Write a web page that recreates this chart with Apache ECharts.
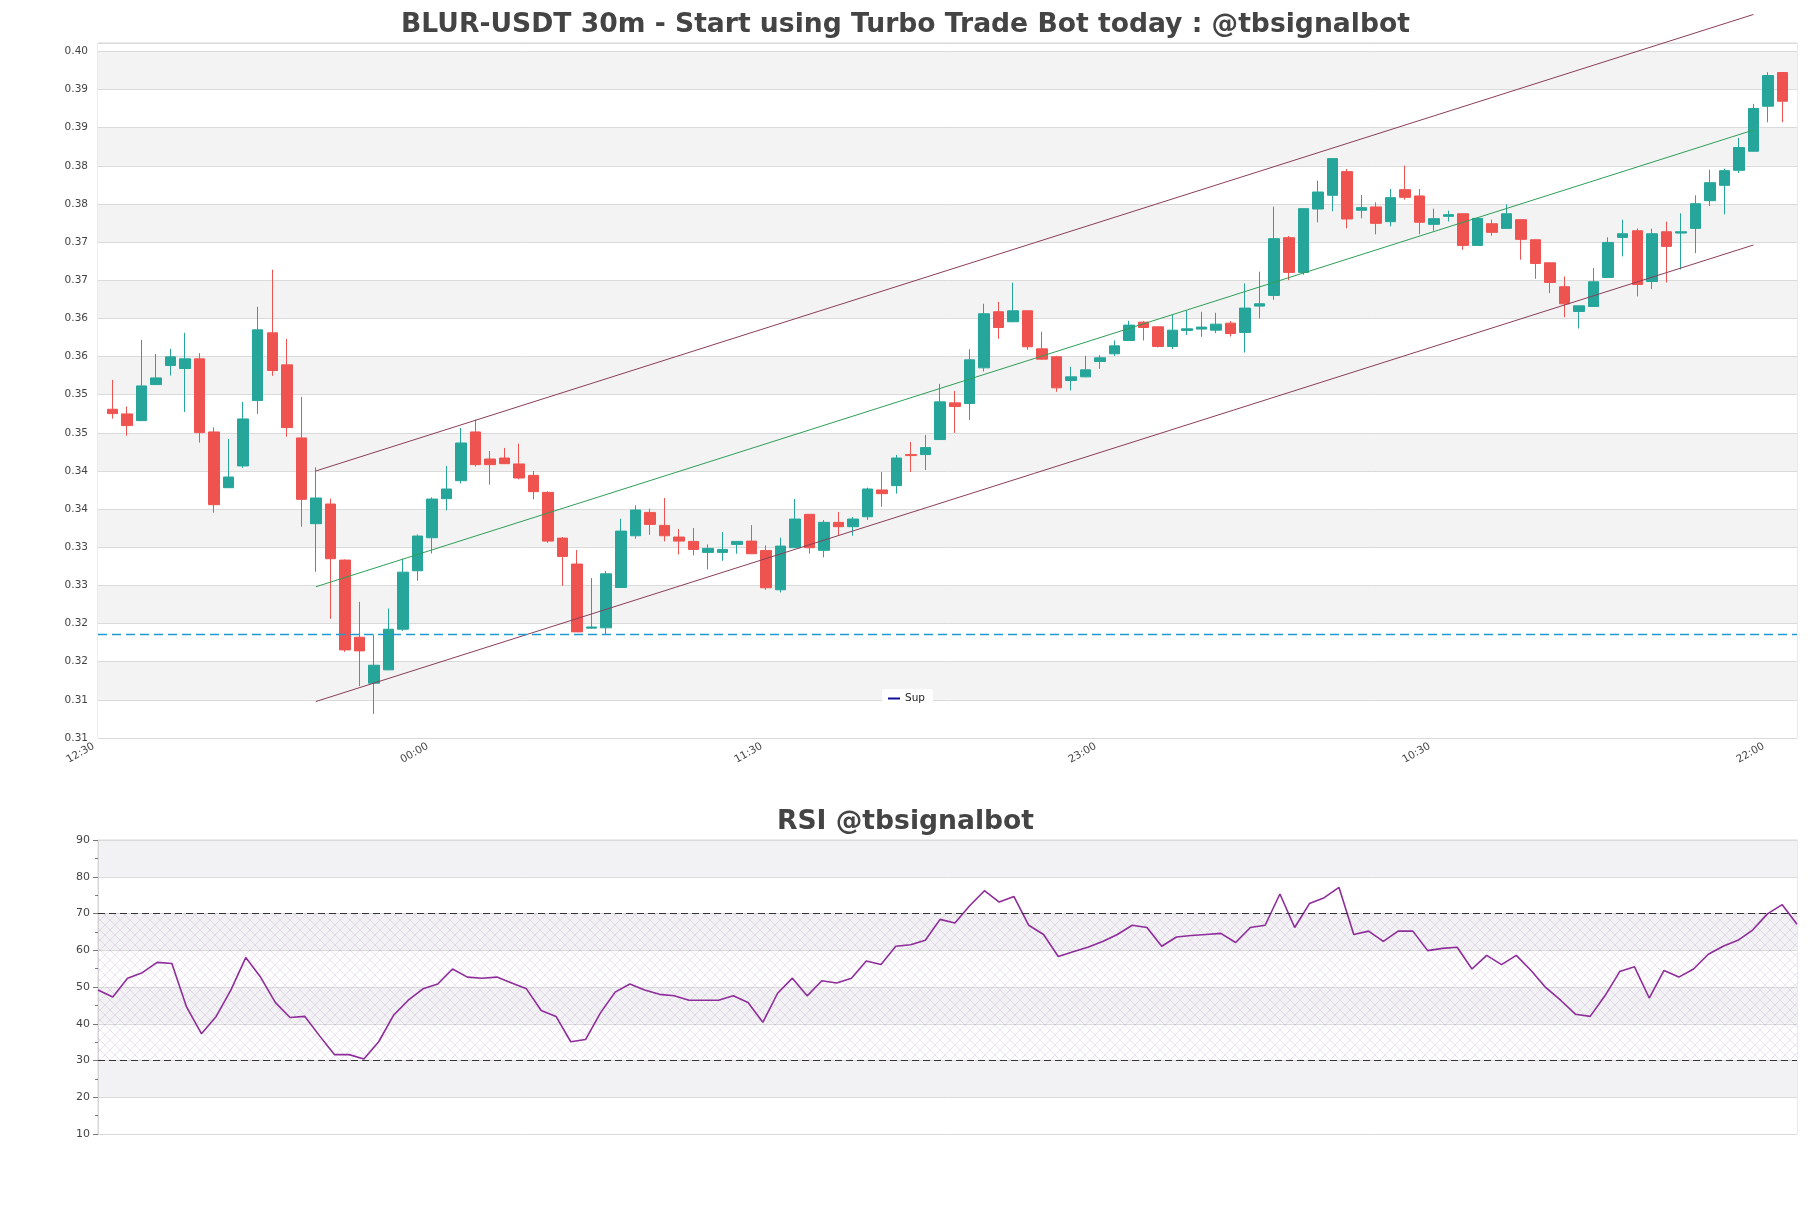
<!DOCTYPE html>
<html>
<head>
<meta charset="utf-8">
<script src="https://cdn.jsdelivr.net/npm/echarts@6/dist/echarts.min.js"></script>
<style>
html,body{margin:0;padding:0;background:#fff;}
#chart{width:1811px;height:1208px;}
</style>
</head>
<body>
<div id="chart"></div>
<script>
// ---------- data ----------
const START_TIME = '12:30';          // time of left padding slot
const opens = [0.35309,0.35248,0.35160,0.35633,0.35882,0.35843,0.35970,0.35012,0.34281,0.34566,
0.35423,0.36311,0.35891,0.34933,0.33809,0.34067,0.33332,0.32321,0.31718,0.31893,
0.32426,0.33192,0.33625,0.34137,0.34373,0.35012,0.34657,0.34670,0.34592,0.34443,
0.34220,0.33620,0.33280,0.32440,0.32444,0.32973,0.33651,0.33957,0.33787,0.33634,
0.33577,0.33433,0.33433,0.33538,0.33581,0.33459,0.32943,0.33494,0.33932,0.33460,
0.33827,0.33770,0.33900,0.34251,0.34308,0.34715,0.34715,0.34912,0.35393,0.35384,
0.35852,0.36587,0.36456,0.36600,0.36101,0.35997,0.35686,0.35734,0.35935,0.36036,
0.36211,0.36451,0.36390,0.36132,0.36342,0.36360,0.36346,0.36438,0.36316,0.36661,
0.36801,0.37558,0.37103,0.37934,0.38114,0.38424,0.37917,0.37961,0.37768,0.38188,
0.38105,0.37733,0.37838,0.37872,0.37457,0.37741,0.37680,0.37794,0.37531,0.37229,
0.36915,0.36591,0.36656,0.37037,0.37562,0.37649,0.36984,0.37636,0.37619,0.37680,
0.38043,0.38244,0.38441,0.38691,0.39281,0.39723];
const closes = [0.35252,0.35095,0.35615,0.35720,0.35996,0.35970,0.35003,0.34058,0.34421,0.35182,
0.36350,0.35817,0.35069,0.34128,0.34146,0.33350,0.32155,0.32142,0.31954,0.32426,
0.33174,0.33647,0.34132,0.34264,0.34867,0.34583,0.34583,0.34596,0.34408,0.34229,
0.33581,0.33380,0.32391,0.32455,0.33152,0.33712,0.33988,0.33800,0.33651,0.33581,
0.33472,0.33485,0.33472,0.33577,0.33415,0.32969,0.33516,0.33870,0.33494,0.33827,
0.33770,0.33870,0.34264,0.34203,0.34670,0.34702,0.34807,0.35406,0.35345,0.35957,
0.36561,0.36381,0.36600,0.36128,0.35966,0.35590,0.35734,0.35826,0.35983,0.36140,
0.36412,0.36381,0.36132,0.36346,0.36364,0.36386,0.36425,0.36302,0.36635,0.36692,
0.37545,0.37103,0.37939,0.38157,0.38595,0.37803,0.37952,0.37746,0.38083,0.38087,
0.37760,0.37807,0.37860,0.37457,0.37811,0.37628,0.37872,0.37536,0.37220,0.36971,
0.36691,0.36665,0.36980,0.37496,0.37610,0.36945,0.37610,0.37444,0.37636,0.38004,
0.38279,0.38437,0.38740,0.39251,0.39684,0.39347];
const lows = [0.35186,0.34963,0.35155,0.35630,0.35751,0.35274,0.34872,0.33953,0.34280,0.34540,
0.35248,0.35747,0.34950,0.33770,0.33179,0.32562,0.32129,0.31679,0.31315,0.31890,
0.32405,0.33061,0.33419,0.33984,0.34338,0.34557,0.34321,0.34590,0.34390,0.34128,
0.33559,0.32995,0.32390,0.32430,0.32360,0.32970,0.33612,0.33664,0.33577,0.33406,
0.33393,0.33210,0.33323,0.33415,0.33410,0.32942,0.32908,0.33490,0.33416,0.33368,
0.33652,0.33652,0.33857,0.34032,0.34203,0.34487,0.34513,0.34910,0.34999,0.35170,
0.35804,0.36233,0.36450,0.36088,0.35960,0.35537,0.35555,0.35730,0.35839,0.36009,
0.36210,0.36211,0.36119,0.36097,0.36285,0.36259,0.36307,0.36263,0.36053,0.36499,
0.36744,0.37002,0.37072,0.37759,0.37904,0.37680,0.37812,0.37602,0.37707,0.38057,
0.37602,0.37650,0.37772,0.37400,0.37450,0.37584,0.37680,0.37269,0.37019,0.36831,
0.36516,0.36368,0.36650,0.37030,0.37313,0.36788,0.36884,0.36971,0.37142,0.37356,
0.37973,0.37864,0.38406,0.38690,0.39071,0.39071];
const highs = [0.35694,0.35344,0.36219,0.36035,0.36101,0.36311,0.36044,0.35073,0.34920,0.35405,
0.36652,0.37138,0.36232,0.35471,0.34548,0.34137,0.33340,0.32785,0.32357,0.32698,
0.33350,0.33669,0.34154,0.34566,0.35064,0.35174,0.34762,0.34802,0.34859,0.34500,
0.34233,0.33634,0.33463,0.33096,0.33188,0.33874,0.34049,0.34006,0.34146,0.33739,
0.33752,0.33538,0.33699,0.33581,0.33791,0.33524,0.33626,0.34133,0.33932,0.33857,
0.33963,0.33897,0.34282,0.34487,0.34710,0.34881,0.34973,0.35642,0.35550,0.36097,
0.36692,0.36718,0.36968,0.36600,0.36325,0.36010,0.35865,0.36010,0.36018,0.36211,
0.36469,0.36465,0.36390,0.36543,0.36600,0.36587,0.36574,0.36465,0.36959,0.37112,
0.37965,0.37580,0.37939,0.38306,0.38595,0.38459,0.38118,0.38022,0.38197,0.38503,
0.38197,0.37939,0.37912,0.37872,0.37811,0.37794,0.37995,0.37794,0.37531,0.37229,
0.37050,0.36665,0.37159,0.37562,0.37794,0.37680,0.37676,0.37768,0.37877,0.38113,
0.38450,0.38463,0.38866,0.39312,0.39727,0.39723];
const rsi = [49.2,47.3,52.4,53.9,56.7,56.4,44.5,37.3,42.0,49.2,
58.0,52.7,45.8,41.7,42.0,36.7,31.6,31.6,30.4,35.1,
42.3,46.4,49.5,50.8,54.9,52.7,52.4,52.7,51.1,49.5,
43.6,42.0,35.1,35.7,42.9,48.6,50.8,49.2,48.0,47.6,
46.4,46.4,46.4,47.6,45.8,40.4,48.3,52.4,47.6,51.7,
51.1,52.4,57.1,56.1,61.1,61.5,62.7,68.4,67.4,72.1,
76.2,73.1,74.6,66.8,64.3,58.3,59.6,60.8,62.4,64.3,
66.8,66.2,61.1,63.6,64.0,64.3,64.6,62.1,66.2,66.8,
75.3,66.2,72.7,74.3,77.1,64.3,65.2,62.4,65.2,65.2,
59.9,60.5,60.8,54.9,58.6,56.1,58.6,54.5,49.8,46.4,
42.6,42.0,47.6,54.2,55.5,47.0,54.5,52.7,54.9,58.9,
61.1,62.7,65.5,69.9,72.4,67.1];
// channel lines (candle index, price)
const channelStart = 14, channelEnd = 113;
const upperLine = [0.34500, 0.40484];
const midLine   = [0.32982, 0.38969];
const lowerLine = [0.31478, 0.37462];
const supportLevel = 0.32356;
const rsiLevels = [70, 30];
const priceTickStep = 0.005;

// ---------- build ----------
const N = opens.length;
function timeLabel(k){
  const [h,m] = START_TIME.split(':').map(Number);
  const t = (h*60 + m + 30*k) % 1440;
  const hh = String(Math.floor(t/60)).padStart(2,'0');
  const mm = String(t%60).padStart(2,'0');
  return hh + ':' + mm;
}
const cats = [];
for (let k = 0; k < N + 2; k++) cats.push(timeLabel(k));
const kData = ['-'];
for (let i = 0; i < N; i++) kData.push([opens[i], closes[i], lows[i], highs[i]]);
kData.push('-');
function lineData(vals){
  const d = new Array(N + 2).fill(null);
  d[channelStart + 1] = vals[0];
  d[channelEnd + 1] = vals[1];
  return d;
}
const rsiCats = cats.slice(1, N + 1);

// hatch pattern for RSI band
const pc = document.createElement('canvas');
pc.width = 10; pc.height = 10;
const pctx = pc.getContext('2d');
pctx.strokeStyle = 'rgba(165,120,185,0.30)';
pctx.lineWidth = 0.7;
pctx.beginPath();
pctx.moveTo(0,0); pctx.lineTo(10,10);
pctx.moveTo(10,0); pctx.lineTo(0,10);
pctx.stroke();

const FONT = 'DejaVu Sans';
const chart = echarts.init(document.getElementById('chart'), null, {renderer:'canvas'});
chart.setOption({
  animation: false,
  backgroundColor: '#ffffff',
  textStyle: {fontFamily: FONT},
  title: [
    {text: 'BLUR-USDT 30m - Start using Turbo Trade Bot today : @tbsignalbot', left: 'center', top: 7,
     textStyle: {fontFamily: FONT, fontSize: 26.6, fontWeight: 'bold', color: '#444'}},
    {text: 'RSI @tbsignalbot', left: 'center', top: 804,
     textStyle: {fontFamily: FONT, fontSize: 26.6, fontWeight: 'bold', color: '#444'}}
  ],
  legend: {
    data: ['Sup'], left: 882, top: 689, icon: 'rect', itemWidth: 12, itemHeight: 2,
    backgroundColor: '#ffffff', borderRadius: 3, padding: [4, 8, 4, 6], itemGap: 6,
    textStyle: {fontFamily: FONT, fontSize: 10.5, color: '#222'}
  },
  grid: [
    {left: 98, right: 14, top: 43, height: 695, show: true, borderColor: '#d6d6d6', borderWidth: 1, backgroundColor: 'transparent'},
    {left: 98, right: 14, top: 840, height: 294, show: true, borderColor: '#d6d6d6', borderWidth: 1, backgroundColor: 'transparent'}
  ],
  xAxis: [
    {type: 'category', gridIndex: 0, data: cats, boundaryGap: false,
     axisLine: {show: false}, axisTick: {show: false}, splitLine: {show: false},
     axisLabel: {interval: 22, rotate: 30, fontSize: 10.5, color: '#444', margin: 5, padding: [0, 5, 0, 0], fontFamily: FONT}},
    {type: 'category', gridIndex: 1, data: rsiCats, boundaryGap: false,
     axisLine: {show: false}, axisTick: {show: false}, axisLabel: {show: false}, splitLine: {show: false}}
  ],
  yAxis: [
    {type: 'value', gridIndex: 0, min: 0.31, max: 0.4011, interval: priceTickStep,
     axisLine: {show: false}, axisTick: {show: false},
     axisLabel: {fontSize: 10.5, color: '#444', margin: 10, fontFamily: FONT,
       formatter: function(v){
         const q = v / priceTickStep;
         if (Math.abs(q - Math.round(q)) > 1e-6) return '';
         return (Math.floor(v * 100 + 1e-6) / 100).toFixed(2);
       }},
     splitLine: {show: true, lineStyle: {color: '#dadada', width: 1}},
     splitArea: {show: true, areaStyle: {color: ['#ffffff', '#f3f3f3']}}},
    {type: 'value', gridIndex: 1, min: 10, max: 90, interval: 10,
     axisLine: {show: true, lineStyle: {color: '#d6d6d6'}},
     axisTick: {show: true, length: 5, lineStyle: {color: '#777'}},
     minorTick: {show: true, splitNumber: 2, length: 3, lineStyle: {color: '#777'}},
     axisLabel: {fontSize: 11, color: '#444', margin: 8, fontFamily: FONT},
     splitLine: {show: true, lineStyle: {color: '#dadada', width: 1}},
     splitArea: {show: true, areaStyle: {color: ['#ffffff', '#f2f2f4']}}}
  ],
  series: [
    {name: 'price', type: 'candlestick', xAxisIndex: 0, yAxisIndex: 0, data: kData, barWidth: 11,
     itemStyle: {color: '#26a69a', color0: '#ef5350', borderColor: '#26a69a', borderColor0: '#ef5350', borderWidth: 1}},
    {name: 'upper', type: 'line', xAxisIndex: 0, yAxisIndex: 0, data: lineData(upperLine), connectNulls: true,
     symbol: 'none', clip: false, silent: true, lineStyle: {color: '#8c3d58', width: 1}, z: 3},
    {name: 'mid', type: 'line', xAxisIndex: 0, yAxisIndex: 0, data: lineData(midLine), connectNulls: true,
     symbol: 'none', clip: false, silent: true, lineStyle: {color: '#2e9e58', width: 1}, z: 3},
    {name: 'lower', type: 'line', xAxisIndex: 0, yAxisIndex: 0, data: lineData(lowerLine), connectNulls: true,
     symbol: 'none', clip: false, silent: true, lineStyle: {color: '#8c3d58', width: 1}, z: 3},
    {name: 'Sup', type: 'line', xAxisIndex: 0, yAxisIndex: 0, data: new Array(N + 2).fill('-'),
     symbol: 'none', color: '#10109a', lineStyle: {color: '#10109a'}, silent: true,
     markLine: {symbol: ['none', 'none'], silent: true, precision: 6, label: {show: false},
       lineStyle: {color: '#1f9ad0', type: [9, 5], width: 1.3},
       data: [{yAxis: supportLevel}]}},
    {name: 'RSI', type: 'line', xAxisIndex: 1, yAxisIndex: 1, data: rsi, symbol: 'none', silent: true,
     lineStyle: {color: '#8e2c9a', width: 1.6}, color: '#8e2c9a', z: 4,
     markLine: {symbol: ['none', 'none'], silent: true, precision: 2, label: {show: false},
       lineStyle: {color: '#333', type: [7, 4], width: 1.1},
       data: rsiLevels.map(v => ({yAxis: v}))},
     markArea: {silent: true, itemStyle: {color: {image: pc, repeat: 'repeat'}},
       data: [[{yAxis: rsiLevels[1]}, {yAxis: rsiLevels[0]}]]}}
  ]
});
</script>
</body>
</html>
